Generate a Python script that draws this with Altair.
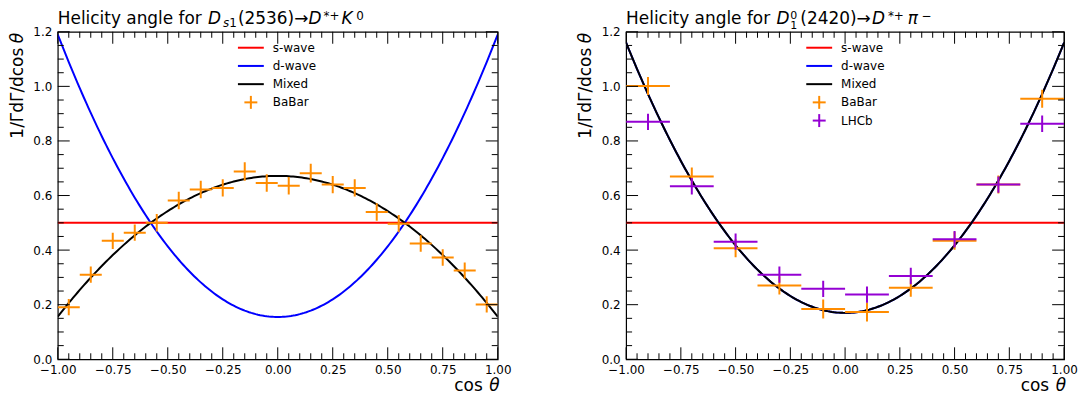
import altair as alt
import numpy as np
import pandas as pd

FONT = "DejaVu Sans"
W_L, W_R, H = 442, 440, 329

# ---------------- tick values / labels ----------------
x_major = [-1.0, -0.75, -0.5, -0.25, 0.0, 0.25, 0.5, 0.75, 1.0]
y_major = [0.0, 0.2, 0.4, 0.6, 0.8, 1.0, 1.2]
x_minor = [round(v, 2) for v in np.arange(-1.0, 1.0001, 0.05) if round(v, 2) not in x_major]
y_minor = [round(v, 2) for v in np.arange(0.0, 1.2001, 0.05) if round(v, 2) not in y_major]

# ---------------- left panel: Ds1(2536) -> D*+ K0 ----------------
ds1_x = [-0.95, -0.85, -0.75, -0.65, -0.55, -0.45, -0.35, -0.25, -0.15, -0.05,
         0.05, 0.15, 0.25, 0.35, 0.45, 0.55, 0.65, 0.75, 0.85, 0.95]
ds1_babar = [0.191, 0.310, 0.434, 0.464, 0.500, 0.582, 0.622, 0.628, 0.688, 0.646,
             0.636, 0.682, 0.640, 0.628, 0.540, 0.497, 0.424, 0.373, 0.325, 0.201]
ds1_babar_err = [0.030, 0.030, 0.030, 0.030, 0.032, 0.032, 0.032, 0.032, 0.034, 0.032,
                 0.032, 0.034, 0.032, 0.032, 0.032, 0.032, 0.030, 0.030, 0.030, 0.030]
ds1_halfbin = 0.05

# ---------------- right panel: D1(2420) -> D*+ pi- ----------------
d1_x = [-0.9, -0.7, -0.5, -0.3, -0.1, 0.1, 0.3, 0.5, 0.7, 0.9]
d1_babar = [1.001, 0.670, 0.407, 0.270, 0.184, 0.173, 0.262, 0.434, 0.640, 0.955]
d1_babar_err = [0.033, 0.033, 0.033, 0.033, 0.035, 0.035, 0.033, 0.033, 0.033, 0.033]
d1_lhcb = [0.870, 0.634, 0.431, 0.310, 0.258, 0.237, 0.305, 0.440, 0.640, 0.863]
d1_lhcb_err = [0.030, 0.030, 0.030, 0.030, 0.030, 0.030, 0.030, 0.030, 0.030, 0.030]
d1_halfbin = 0.1

# model curves: 1/Gamma dGamma/dcos = a + b*cos^2
curve_names = ["s-wave", "d-wave", "Mixed"]
ds1_a = [0.5, 0.155, 0.672]
ds1_b = [0.0, 1.035, -0.516]
d1_a = [0.5, 0.170, 0.170]
d1_b = [0.0, 0.990, 0.990]

# ---------------- styles ----------------
CURVE_COLORS = {"s-wave": "#ff0000", "d-wave": "#0000ff", "Mixed": "#000000"}
DATA_COLORS = {"BaBar": "#ff8c00", "LHCb": "#9400d3"}

XS = alt.Scale(domain=[-1, 1], nice=False, zero=False)
YS = alt.Scale(domain=[0, 1.2], nice=False, zero=False)
XAX = alt.Axis(values=x_major, format=".2f", ticks=False, domain=False, grid=False,
               labelFont=FONT, labelFontSize=12, labelColor="black", labelPadding=5,
               labelOverlap=False, labelFlush=False)
YAX = alt.Axis(values=y_major, format=".1f", ticks=False, domain=False, grid=False,
               labelFont=FONT, labelFontSize=12, labelColor="black", labelPadding=6,
               labelOverlap=False, labelFlush=False)

ONE = pd.DataFrame({"k": [0]})


def X(f):
    return alt.X(f, scale=XS, axis=XAX, title=None)


def Y(f):
    return alt.Y(f, scale=YS, axis=YAX, title=None)


def txt(s, x, y, size=17, style="normal", align="left", baseline="alphabetic", angle=0):
    return alt.Chart(ONE).mark_text(
        font=FONT, fontSize=size, fontStyle=style, align=align, baseline=baseline,
        angle=angle, color="black"
    ).encode(x=alt.value(x), y=alt.value(y), text=alt.value(s))


def tick_layers(W):
    out = []
    for vals, ln in ((x_major, 12), (x_minor, 6)):
        d = pd.DataFrame({"v": vals})
        out.append(alt.Chart(d).mark_rule(color="black", strokeWidth=1).encode(
            x=X("v:Q"), y=alt.value(H), y2=alt.value(H - ln)))
        out.append(alt.Chart(d).mark_rule(color="black", strokeWidth=1).encode(
            x=X("v:Q"), y=alt.value(0), y2=alt.value(ln)))
    for vals, ln in ((y_major, 12), (y_minor, 6)):
        d = pd.DataFrame({"v": vals})
        out.append(alt.Chart(d).mark_rule(color="black", strokeWidth=1).encode(
            y=Y("v:Q"), x=alt.value(0), x2=alt.value(ln)))
        out.append(alt.Chart(d).mark_rule(color="black", strokeWidth=1).encode(
            y=Y("v:Q"), x=alt.value(W), x2=alt.value(W - ln)))
    return out


def curve_layers(a_list, b_list):
    out = []
    for name, a, b in zip(curve_names, a_list, b_list):
        out.append(
            alt.Chart(alt.sequence(-1.0, 1.0001, 0.01, as_="x"))
            .transform_calculate(y=f"{a} + ({b})*datum.x*datum.x")
            .mark_line(color=CURVE_COLORS[name], strokeWidth=2, clip=True)
            .encode(x=X("x:Q"), y=Y("y:Q"))
        )
    return out


def data_layers(xs, ys, errs, half, color):
    df = pd.DataFrame({"x": xs, "y": ys, "e": errs})
    df["xlo"] = df["x"] - half
    df["xhi"] = df["x"] + half
    df["ylo"] = df["y"] - df["e"]
    df["yhi"] = df["y"] + df["e"]
    h = alt.Chart(df).mark_rule(color=color, strokeWidth=2, clip=True).encode(
        x=X("xlo:Q"), x2="xhi:Q", y=Y("y:Q"))
    v = alt.Chart(df).mark_rule(color=color, strokeWidth=2, clip=True).encode(
        x=X("x:Q"), y=Y("ylo:Q"), y2="yhi:Q")
    return [h, v]


def legend_layers(items):
    out = []
    lx0, lx1, tx, y0, dy = 181, 207, 216, 16, 18.3
    for i, (label, color, kind) in enumerate(items):
        yy = y0 + i * dy
        if kind == "line":
            out.append(alt.Chart(ONE).mark_rule(color=color, strokeWidth=2).encode(
                x=alt.value(lx0), x2=alt.value(lx1), y=alt.value(yy)))
        else:
            cx = (lx0 + lx1) / 2
            out.append(alt.Chart(ONE).mark_rule(color=color, strokeWidth=2).encode(
                x=alt.value(cx - 6.5), x2=alt.value(cx + 6.5), y=alt.value(yy)))
            out.append(alt.Chart(ONE).mark_rule(color=color, strokeWidth=2).encode(
                x=alt.value(cx), y=alt.value(yy - 6.5), y2=alt.value(yy + 6.5)))
        out.append(txt(label, tx, yy, size=12, baseline="middle"))
    return out


def axis_titles(W):
    return [
        txt("θ", W + 2, H + 32, style="italic", align="right"),
        txt("cos", W - 15, H + 32, align="right"),
        txt("θ", -40, 1, style="italic", align="right", baseline="middle", angle=270),
        txt("1/ΓdΓ/dcos", -40, 16, align="right", baseline="middle", angle=270),
    ]


# title pieces: (text, x, y, size, style)
left_title = [
    ("Helicity angle for", 0, -8, 17, "normal"),
    ("D", 151, -8, 17, "italic"),
    ("s", 166, -4.5, 12, "italic"),
    ("1", 172.3, -4.5, 12, "normal"),
    ("(2536)→", 181, -8, 17, "normal"),
    ("D", 252, -8, 17, "italic"),
    ("*+", 267, -12, 12, "normal"),
    ("K", 285, -8, 17, "italic"),
    ("0", 300, -12, 12, "normal"),
]
right_title = [
    ("Helicity angle for", 0, -8, 17, "normal"),
    ("D", 151, -8, 17, "italic"),
    ("0", 165, -12.5, 11, "normal"),
    ("1", 165, -3, 11, "normal"),
    ("(2420)→", 175, -8, 17, "normal"),
    ("D", 247, -8, 17, "italic"),
    ("*+", 263, -12, 12, "normal"),
    ("π", 283, -8, 17, "italic"),
    ("−", 297, -12, 12, "normal"),
]

left_legend = [("s-wave", CURVE_COLORS["s-wave"], "line"),
               ("d-wave", CURVE_COLORS["d-wave"], "line"),
               ("Mixed", CURVE_COLORS["Mixed"], "line"),
               ("BaBar", DATA_COLORS["BaBar"], "cross")]
right_legend = left_legend + [("LHCb", DATA_COLORS["LHCb"], "cross")]

left_layers = (curve_layers(ds1_a, ds1_b)
               + data_layers(ds1_x, ds1_babar, ds1_babar_err, ds1_halfbin, DATA_COLORS["BaBar"])
               + tick_layers(W_L)
               + legend_layers(left_legend)
               + axis_titles(W_L)
               + [txt(s, x, y, size=sz, style=st) for s, x, y, sz, st in left_title])
left = alt.layer(*left_layers).properties(width=W_L, height=H)

right_layers = (curve_layers(d1_a, d1_b)
                + data_layers(d1_x, d1_babar, d1_babar_err, d1_halfbin, DATA_COLORS["BaBar"])
                + data_layers(d1_x, d1_lhcb, d1_lhcb_err, d1_halfbin, DATA_COLORS["LHCb"])
                + tick_layers(W_R)
                + legend_layers(right_legend)
                + axis_titles(W_R)
                + [txt(s, x, y, size=sz, style=st) for s, x, y, sz, st in right_title])
right = alt.layer(*right_layers).properties(width=W_R, height=H)

chart = (
    alt.hconcat(left, right, spacing=129, bounds="flush")
    .properties(padding=0, background="white")
    .configure_view(stroke="black", strokeWidth=1.2)
)

chart.save("out.html", embed_options={"renderer": "svg", "actions": False})
